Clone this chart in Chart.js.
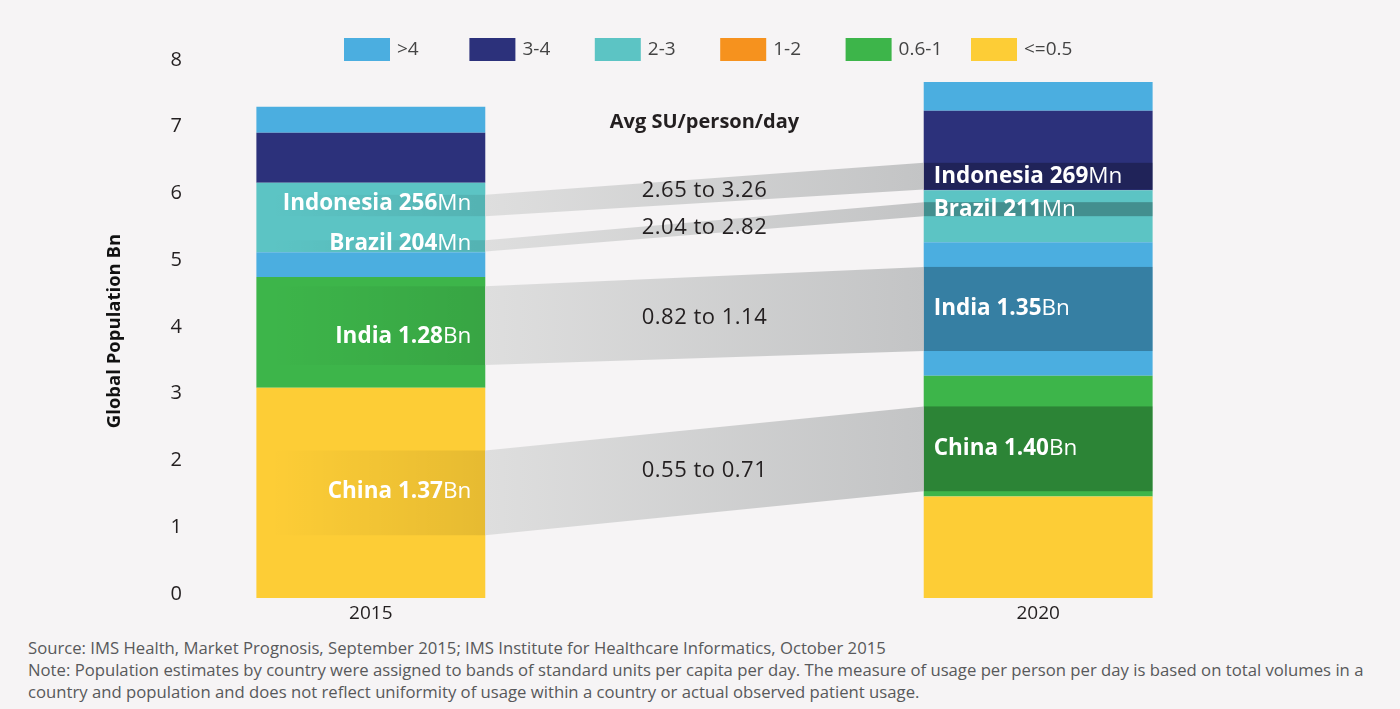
<!DOCTYPE html>
<html>
<head>
<meta charset="utf-8">
<script src="https://cdn.jsdelivr.net/npm/chart.js@4"></script>
<style>
  body { margin: 0; background: #f6f4f5; font-family: "Open Sans", sans-serif; }
  #wrap { position: relative; width: 1400px; height: 632px; }
  #notes { padding: 5px 0 0 28px; font-size: 16.7px; line-height: 22px; color: #58595b; white-space: nowrap; }
</style>
</head>
<body>
<div id="wrap"><canvas id="myChart" width="1400" height="632"></canvas></div>
<div id="notes">
  <div>Source: IMS Health, Market Prognosis, September 2015; IMS Institute for Healthcare Informatics, October 2015</div>
  <div>Note: Population estimates by country were assigned to bands of standard units per capita per day. The measure of usage per person per day is based on total volumes in a</div>
  <div>country and population and does not reflect uniformity of usage within a country or actual observed patient usage.</div>
</div>
<script>
const years = ["2015", "2020"];

// usage bands, legend order (top of the stack first)
const bands = [">4", "3-4", "2-3", "1-2", "0.6-1", "<=0.5"];
const bandColors = ["#4baee0", "#2c317b", "#5cc4c4", "#f6921e", "#3db54a", "#fdcd36"];

// population (Bn) per band, [2015, 2020]
const under05 = [3.15, 1.52];
const from06to1 = [1.66, 1.81];
const from1to2 = [0, 0];
const over4Lower = [0.37, 2.0];
const from2to3 = [1.04, 0.78];
const from3to4 = [0.75, 1.19];
const over4 = [0.39, 0.43];

// highlighted countries
const countries = ["Indonesia", "Brazil", "India", "China"];
const pop2015 = ["256", "204", "1.28", "1.37"];
const pop2020 = ["269", "211", "1.35", "1.40"];
const popUnit = ["Mn", "Mn", "Bn", "Bn"];
const usageRange = ["2.65 to 3.26", "2.04 to 2.82", "0.82 to 1.14", "0.55 to 0.71"];
const band2015Lo = [5.72, 5.19, 3.49, 0.94];
const band2015Hi = [6.04, 5.36, 4.67, 2.21];
const band2020Lo = [6.12, 5.72, 3.7, 1.6];
const band2020Hi = [6.52, 5.93, 4.96, 2.87];
const label2015At = [5.91, 5.31, 3.91, 1.6];

const yTicks = [0, 1, 2, 3, 4, 5, 6, 7, 8];

const FONT = '"Open Sans", sans-serif';

// middle empty category just keeps the two bars apart
const spread = (v) => [v[0], null, v[1]];

function makeDataset(label, values, color) {
  return {
    label: label,
    data: spread(values),
    backgroundColor: color,
    borderWidth: 0,
  };
}

const datasets = [
  makeDataset("<=0.5", under05, bandColors[5]),
  makeDataset("0.6-1", from06to1, bandColors[4]),
  makeDataset("1-2", from1to2, bandColors[3]),
  makeDataset(">4 ", over4Lower, bandColors[0]),
  makeDataset("2-3", from2to3, bandColors[2]),
  makeDataset("3-4", from3to4, bandColors[1]),
  makeDataset(">4", over4, bandColors[0]),
];

const legendPlugin = {
  id: "bandLegend",
  afterDraw(chart) {
    const ctx = chart.ctx;
    let x = chart.width / 2 - 356;
    ctx.save();
    ctx.font = "19px " + FONT;
    ctx.textBaseline = "middle";
    bands.forEach((b, i) => {
      ctx.fillStyle = bandColors[i];
      ctx.fillRect(x, 38, 46, 23);
      ctx.fillStyle = "#444444";
      ctx.fillText(b, x + 53, 50);
      x += 125.4;
    });
    ctx.restore();
  },
};

const flowPlugin = {
  id: "flows",
  afterDatasetsDraw(chart) {
    const ctx = chart.ctx;
    const y = chart.scales.y;
    const b15 = chart.getDatasetMeta(0).data[0];
    const b20 = chart.getDatasetMeta(0).data[2];
    const l15 = b15.x - b15.width / 2, r15 = b15.x + b15.width / 2;
    const l20 = b20.x - b20.width / 2, r20 = b20.x + b20.width / 2;
    const mid = (r15 + l20) / 2;

    ctx.save();
    countries.forEach((c, i) => {
      const a1 = y.getPixelForValue(band2015Hi[i]);
      const a2 = y.getPixelForValue(band2015Lo[i]);
      const c1 = y.getPixelForValue(band2020Hi[i]);
      const c2 = y.getPixelForValue(band2020Lo[i]);

      // grey link between the bars
      let g = ctx.createLinearGradient(r15, 0, l20, 0);
      g.addColorStop(0, "#dedede");
      g.addColorStop(1, "#c3c4c5");
      ctx.fillStyle = g;
      ctx.beginPath();
      ctx.moveTo(r15, a1);
      ctx.lineTo(l20, c1);
      ctx.lineTo(l20, c2);
      ctx.lineTo(r15, a2);
      ctx.closePath();
      ctx.fill();

      // shade inside 2015 bar, fading in
      g = ctx.createLinearGradient(l15 + 14, 0, r15, 0);
      g.addColorStop(0, "rgba(0,0,0,0)");
      g.addColorStop(1, "rgba(0,0,0,0.09)");
      ctx.fillStyle = g;
      ctx.fillRect(l15 + 14, a1, r15 - l15 - 14, a2 - a1);

      // shade inside 2020 bar
      ctx.fillStyle = "rgba(0,0,0,0.27)";
      ctx.fillRect(l20, c1, r20 - l20, c2 - c1);
    });

    // labels
    ctx.textBaseline = "middle";
    countries.forEach((c, i) => {
      const y15 = y.getPixelForValue(label2015At[i]);
      const y20 = y.getPixelForValue((band2020Hi[i] + band2020Lo[i]) / 2);
      const yMid = y.getPixelForValue((band2015Hi[i] + band2015Lo[i] + band2020Hi[i] + band2020Lo[i]) / 4);
      ctx.fillStyle = "#ffffff";

      // 2015, right aligned
      const bold15 = c + " " + pop2015[i];
      ctx.font = "22.5px " + FONT;
      const unitW = ctx.measureText(popUnit[i]).width;
      ctx.textAlign = "right";
      ctx.fillText(popUnit[i], r15 - 14, y15);
      ctx.font = "bold 22.5px " + FONT;
      ctx.fillText(bold15, r15 - 14 - unitW, y15);

      // 2020, left aligned
      ctx.textAlign = "left";
      const bold20 = c + " " + pop2020[i];
      ctx.fillText(bold20, l20 + 10, y20);
      const bw = ctx.measureText(bold20).width;
      ctx.font = "22.5px " + FONT;
      ctx.fillText(popUnit[i], l20 + 10 + bw, y20);

      // usage range in the middle
      ctx.fillStyle = "#231f20";
      ctx.textAlign = "center";
      ctx.font = "22px " + FONT;
      ctx.letterSpacing = "0.5px";
      ctx.fillText(usageRange[i], mid, yMid);
      ctx.letterSpacing = "0px";
    });

    ctx.font = "bold 20px " + FONT;
    ctx.fillStyle = "#231f20";
    ctx.textAlign = "center";
    ctx.fillText("Avg SU/person/day", mid, y.getPixelForValue(7.13));
    ctx.restore();
  },
};

const chart = new Chart(document.getElementById("myChart").getContext("2d"), {
  type: "bar",
  data: {
    labels: [years[0], "", years[1]],
    datasets: datasets,
  },
  options: {
    responsive: false,
    animation: false,
    devicePixelRatio: 1,
    layout: { padding: { left: 28, right: 195, top: 64, bottom: 0 } },
    datasets: { bar: { categoryPercentage: 1, barPercentage: 0.686 } },
    plugins: {
      legend: { display: false },
      tooltip: { enabled: false },
    },
    scales: {
      x: {
        stacked: true,
        grid: { display: false, drawTicks: false },
        border: { display: false },
        ticks: { color: "#231f20", font: { family: FONT, size: 19 }, padding: 4 },
        afterFit: (scale) => { scale.height = 32; },
      },
      y: {
        stacked: true,
        min: 0,
        max: 8,
        afterBuildTicks: (scale) => { scale.ticks = yTicks.map((v) => ({ value: v })); },
        grid: { display: false, drawTicks: false },
        border: { display: false },
        ticks: { color: "#231f20", font: { family: FONT, size: 20 }, padding: 22, labelOffset: -4 },
        title: {
          display: true,
          text: "Global Population Bn",
          color: "#111111",
          font: { family: FONT, size: 18.5, weight: "bold" },
          padding: { top: 76, bottom: 0 },
        },
        afterFit: (scale) => { scale.width = 176; },
      },
    },
  },
  plugins: [flowPlugin, legendPlugin],
});
</script>
</body>
</html>
